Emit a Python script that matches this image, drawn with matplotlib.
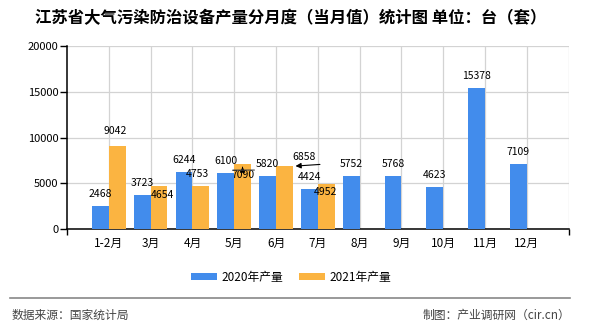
import matplotlib
matplotlib.use("Agg")
import matplotlib.pyplot as plt
import numpy as np

plt.rcParams['font.family'] = ['Noto Sans CJK SC', 'DejaVu Sans']

months = ["1-2月", "3月", "4月", "5月", "6月", "7月", "8月", "9月", "10月", "11月", "12月"]
prod_2020 = [2468, 3723, 6244, 6100, 5820, 4424, 5752, 5768, 4623, 15378, 7109]
prod_2021 = [9042, 4654, 4753, 7090, 6858, 4952]
yticks = [0, 5000, 10000, 15000, 20000]

blue = "#428CEC"
orange = "#FBB441"

fig = plt.figure(figsize=(5.9, 3.3), dpi=100)
ax = fig.add_axes([67 / 590, 1 - 229 / 330, (568.6 - 67) / 590, (229 - 46) / 330])

x = np.arange(len(months))
w = 0.4
b20 = ax.bar(x - w / 2, prod_2020, width=w, color=blue, label="2020年产量", zorder=3)
b21 = ax.bar(x[:len(prod_2021)] + w / 2, prod_2021, width=w, color=orange, label="2021年产量", zorder=3)

ax.set_xlim(-1, len(months))
ax.set_ylim(0, 20000)
ax.set_yticks(yticks)
ax.set_xticks(x)
ax.set_xticklabels(months, fontsize=8.5)
ax.set_xticks([-1, len(months)], minor=True)
ax.tick_params(axis='x', which='major', length=0, pad=6)
ax.tick_params(axis='x', which='minor', length=4, width=1)
ax.tick_params(axis='y', labelsize=8, length=5, width=1, pad=1)
ax.grid(True, which='major', color="#d3d3d3", linewidth=0.9, zorder=0)
ax.axvline(len(months), color="#d3d3d3", linewidth=0.9, zorder=0)
for s in ["top", "right"]:
    ax.spines[s].set_visible(False)
for s in ["left", "bottom"]:
    ax.spines[s].set_linewidth(1.1)

# value labels
for rect, v in zip(b20, prod_2020):
    ax.annotate(str(v), (rect.get_x() + rect.get_width() / 2, v), xytext=(0, 12),
                textcoords='offset pixels', ha='center', va='center', fontsize=7.5)

off21 = [(-2, 15), (4, -9), (-3, 12), (0, -11), (20, 9), (-1, -8)]
for rect, v, (dx, dy) in zip(b21, prod_2021, off21):
    ax.annotate(str(v), (rect.get_x() + rect.get_width() / 2, v), xytext=(dx, dy),
                textcoords='offset pixels', ha='center', va='center', fontsize=7.5)

# little arrow markers near 5月 / 6月 labels
r5 = b21[3]
ax.annotate('', xy=(r5.get_x() + r5.get_width() / 2, prod_2021[3]), xytext=(0, -6),
            textcoords='offset pixels',
            arrowprops=dict(arrowstyle='-|>', color='black', lw=0.6, mutation_scale=8))
ax.annotate('', xy=(r5.get_x() - 0.1, prod_2021[3] - 650), xytext=(r5.get_x() + r5.get_width() + 0.15, prod_2021[3] - 650),
            arrowprops=dict(arrowstyle='-', color='#444444', lw=0.8))
r6 = b21[4]
ax.annotate('', xy=(r6.get_x() + r6.get_width(), prod_2021[4]), xytext=(30, 2),
            textcoords='offset pixels',
            arrowprops=dict(arrowstyle='-|>', color='black', lw=0.8, mutation_scale=8))

leg = fig.legend(loc='center', bbox_to_anchor=(291 / 590, 1 - 277 / 330), ncol=2, frameon=False,
                 fontsize=8.5, handlelength=2.2, handleheight=0.6, columnspacing=1.3, handletextpad=0.4)

fig.text(291 / 590, 1 - 18 / 330, "江苏省大气污染防治设备产量分月度（当月值）统计图 单位：台（套）",
         ha='center', va='center', fontsize=11.8, fontweight='bold')

fig.add_artist(plt.Line2D([10 / 590, 570 / 590], [1 - 298 / 330] * 2, color="#888888", linewidth=1.2))
fig.text(12 / 590, 1 - 315 / 330, "数据来源：国家统计局", ha='left', va='center', fontsize=8.5, color="#444444")
fig.text(570 / 590, 1 - 315 / 330, "制图：产业调研网（cir.cn）", ha='right', va='center', fontsize=8.5, color="#444444")

fig.savefig("out.png", dpi=100)
